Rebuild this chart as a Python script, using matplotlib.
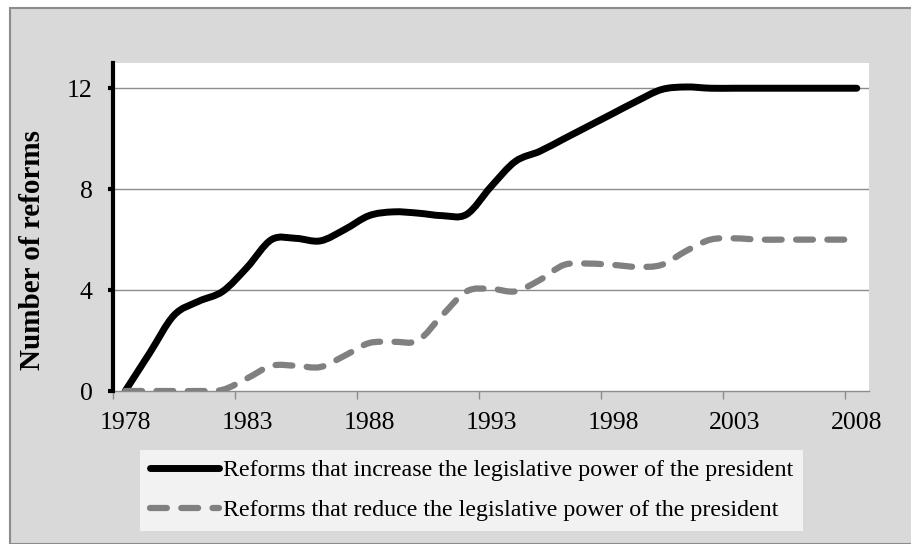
import numpy as np
import matplotlib.pyplot as plt
from matplotlib.path import Path
from matplotlib.patches import PathPatch, Rectangle
from matplotlib.lines import Line2D

# data (one value per year, 1978-2008)
years = list(range(1978, 2009))
increase = [0, 1.5, 3.0, 3.55, 3.95, 4.9, 6.0, 6.05, 5.95, 6.4, 6.95, 7.1, 7.05, 6.95, 7.0,
            8.1, 9.1, 9.5, 10.0, 10.5, 11.0, 11.5, 11.95, 12.05, 12, 12, 12, 12, 12, 12, 12]
reduce = [0, 0, 0, 0, 0.05, 0.5, 1.0, 1.0, 0.95, 1.4, 1.9, 1.95, 2.0, 3.0, 3.95,
          4.05, 3.95, 4.4, 5.0, 5.05, 5.0, 4.92, 5.0, 5.55, 6.0, 6.05, 6, 6, 6, 6, 6]
labels = ["Reforms that increase the legislative power of the president",
          "Reforms that reduce the legislative power of the president"]
xticks = [1978, 1983, 1988, 1993, 1998, 2003, 2008]
yticks = [0, 4, 8, 12]


def smooth_path(x, y):
    # excel-like smoothed line: bezier segments through every point
    pts = np.column_stack([x, y]).astype(float)
    n = len(pts)
    verts = [pts[0]]
    codes = [Path.MOVETO]
    for i in range(n - 1):
        p0 = pts[max(i - 1, 0)]
        p1 = pts[i]
        p2 = pts[i + 1]
        p3 = pts[min(i + 2, n - 1)]
        verts += [p1 + (p2 - p0) / 6, p2 - (p3 - p1) / 6, p2]
        codes += [Path.CURVE4] * 3
    return Path(verts, codes)


plt.rcParams['font.family'] = ['Liberation Serif', 'DejaVu Serif']

W, H = 912, 544
fig = plt.figure(figsize=(W / 100, H / 100), dpi=100, facecolor='white')
fig.patches.append(Rectangle((10 / W, 0), 1, 1 - 8 / H, transform=fig.transFigure,
                             facecolor='#d9d9d9', edgecolor='#8c8c8c', lw=1.5, zorder=-1))

ax = fig.add_axes([113 / W, 1 - 391 / H, (869 - 113) / W, (391 - 63) / H])
ax.set_zorder(2)
ax.set_facecolor('white')

x = np.array(years) + 0.5   # points sit in the middle of each year slot
black_line = PathPatch(smooth_path(x, increase), fill=False, edgecolor='black', lw=5,
                       capstyle='round', joinstyle='round', zorder=3)
gray_line = PathPatch(smooth_path(x, reduce), fill=False, edgecolor='#808080', lw=4.5,
                      linestyle=(0, (2.7, 2.3)), capstyle='round', zorder=3)
ax.add_patch(black_line)
ax.add_patch(gray_line)

ax.set_xlim(1978, 2009)
ax.set_ylim(0, 13)
# labels centred on the year slot, tick marks on the slot boundary
ax.set_xticks(np.array(xticks) + 0.5)
ax.set_xticklabels([str(t) for t in xticks])
ax.set_xticks(xticks, minor=True)
ax.set_yticks(yticks)

for y in yticks[1:]:
    ax.axhline(y, color='#8c8c8c', lw=1, zorder=1)

for s in ['top', 'right']:
    ax.spines[s].set_visible(False)
ax.spines['left'].set_linewidth(3)
ax.spines['left'].set_color('black')
ax.spines['bottom'].set_linewidth(1)
ax.spines['bottom'].set_color('#8c8c8c')
ax.spines['left'].set_zorder(4)

ax.tick_params(axis='y', length=3.6, width=3, color='black', labelsize=18.5, pad=11)
ax.tick_params(axis='x', which='major', length=0, labelsize=18.5, pad=15)
ax.tick_params(axis='x', which='minor', length=6, width=1, color='#8c8c8c')

fig.text(33 / W, 1 - 250 / H, "Number of reforms", fontsize=21, fontweight='bold',
         rotation=90, ha='center', va='center')

handles = [Line2D([], [], color='black', lw=5, solid_capstyle='round'),
           Line2D([], [], color='#808080', lw=4.5, linestyle=(0, (2.7, 2.3)),
                  dash_capstyle='round')]
leg = fig.legend(handles, labels, loc='upper left', bbox_to_anchor=(140 / W, 1 - 450 / H),
                 frameon=True, fancybox=False, facecolor='#f2f2f2', edgecolor='none',
                 framealpha=1, fontsize=17.3, handlelength=2.9, handletextpad=0.15,
                 borderaxespad=0, borderpad=0.4, labelspacing=0.75)

fig.savefig('out.png', dpi=100, facecolor=fig.get_facecolor())
